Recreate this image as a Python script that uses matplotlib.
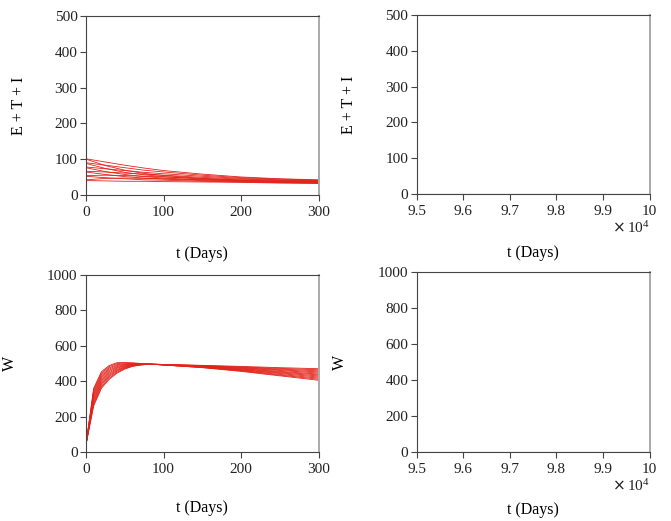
import matplotlib
matplotlib.use("Agg")
from matplotlib import pyplot as plt

plt.rcParams["font.family"] = ["Liberation Serif", "DejaVu Serif"]
plt.rcParams["font.size"] = 11

# early phase, E + T + I (days 0..300)
t_eti = [0, 25, 50, 75, 100, 150, 200, 250, 300]
eti_curves = [
    [101, 92, 83, 75, 68, 58, 50, 45, 42],
    [90, 83, 76, 69, 64, 55, 48, 44, 41],
    [78, 73, 68, 63, 59, 52, 46, 42, 40],
    [66, 64, 61, 58, 55, 49, 44, 41, 39],
    [54, 55, 54, 52, 50, 46, 42, 40, 38],
    [42, 46, 47, 46, 45, 42, 40, 38, 37],
    [100, 82, 69, 60, 54, 46, 41, 38, 36],
    [88, 74, 63, 56, 51, 44, 40, 37, 35],
    [76, 65, 57, 51, 47, 42, 38, 36, 34],
    [64, 57, 51, 47, 44, 40, 37, 35, 33],
    [52, 48, 45, 42, 41, 38, 36, 34, 33],
    [40, 39, 38, 38, 37, 36, 35, 33, 32],
]

# early phase, W (days 0..300)
t_w = [0, 10, 20, 30, 40, 50, 60, 70, 80, 90, 100, 150, 200, 250, 300]
w_curves = [
    [40, 360, 453, 488, 504, 505, 503, 500, 497, 494, 491, 476, 455, 430, 405],
    [40, 351, 445, 482, 499, 502, 501, 499, 497, 494, 491, 477, 458, 434, 411],
    [40, 342, 436, 475, 493, 498, 499, 498, 496, 494, 491, 478, 460, 438, 417],
    [40, 333, 428, 468, 488, 495, 498, 497, 496, 494, 492, 479, 463, 443, 423],
    [40, 324, 419, 461, 482, 492, 496, 496, 496, 494, 492, 480, 465, 447, 429],
    [40, 315, 411, 454, 477, 488, 494, 495, 496, 494, 492, 481, 468, 451, 435],
    [40, 305, 402, 446, 472, 485, 492, 494, 495, 495, 493, 483, 470, 455, 440],
    [40, 296, 394, 439, 466, 481, 490, 494, 495, 495, 493, 484, 473, 460, 446],
    [40, 287, 385, 432, 461, 478, 488, 493, 495, 495, 493, 485, 475, 464, 452],
    [40, 278, 377, 425, 456, 475, 486, 492, 495, 495, 494, 486, 478, 468, 458],
    [40, 269, 368, 417, 450, 471, 485, 491, 495, 495, 494, 488, 480, 472, 464],
    [40, 260, 360, 410, 445, 468, 483, 491, 495, 495, 494, 489, 483, 476, 470],
]

# late phase (days 95000..100000): everything has died out
t_late = [95000, 100000]
eti_late = [0, 0]
w_late = [0, 0]

early_ticks = [0, 100, 200, 300]
late_ticks = [95000, 96000, 97000, 98000, 99000, 100000]
late_labels = ["9.5", "9.6", "9.7", "9.8", "9.9", "10"]

red = "#e2231a"
dark = "#444444"

fig = plt.figure(figsize=(6.71, 5.21), dpi=100)
ax1 = fig.add_axes([0.128, 0.626, 0.347, 0.343])
ax2 = fig.add_axes([0.621, 0.628, 0.347, 0.343])
ax3 = fig.add_axes([0.128, 0.132, 0.347, 0.341])
ax4 = fig.add_axes([0.621, 0.133, 0.347, 0.344])

for c in eti_curves:
    ax1.plot(t_eti, c, color=red, lw=0.6)
for c in w_curves:
    ax3.plot(t_w, c, color=red, lw=0.6)
ax2.plot(t_late, eti_late, color=red, lw=0.8)
ax4.plot(t_late, w_late, color=red, lw=0.8)

for ax in (ax1, ax3):
    ax.set_xlim(0, 300)
    ax.set_xticks(early_ticks)
for ax in (ax2, ax4):
    ax.set_xlim(95000, 100000)
    ax.set_xticks(late_ticks)
    ax.set_xticklabels(late_labels)
    ax.text(0.92, -0.19, r"$\times\,\mathregular{10^4}$", transform=ax.transAxes,
            ha="center", va="center", color="#222222")

for ax in (ax1, ax2):
    ax.set_ylim(0, 500)
    ax.set_yticks([0, 100, 200, 300, 400, 500])
    ax.set_ylabel("E + T + I", fontsize=11.5)
for ax in (ax3, ax4):
    ax.set_ylim(0, 1000)
    ax.set_yticks([0, 200, 400, 600, 800, 1000])
    ax.set_ylabel("W", fontsize=11.5)

ax1.yaxis.set_label_coords(-0.253, 0.5)
ax2.yaxis.set_label_coords(-0.258, 0.5)
ax3.yaxis.set_label_coords(-0.29, 0.5)
ax4.yaxis.set_label_coords(-0.296, 0.5)

for ax, ly in ((ax1, -0.285), (ax2, -0.285), (ax3, -0.27), (ax4, -0.28)):
    ax.set_xlabel("t (Days)", fontsize=11.5)
    ax.xaxis.set_label_coords(0.5, ly)
    ax.tick_params(direction="out", length=4, width=0.8, colors=dark,
                   labelcolor="#222222")
    ax.tick_params(axis="x", pad=4)
    ax.tick_params(axis="y", pad=2)
    for s in ("left", "bottom", "top"):
        ax.spines[s].set_color(dark)
        ax.spines[s].set_linewidth(0.8)
    ax.spines["right"].set_color("#aaaaaa")
    ax.spines["right"].set_linewidth(1.4)

fig.savefig("out.png", dpi=100)
